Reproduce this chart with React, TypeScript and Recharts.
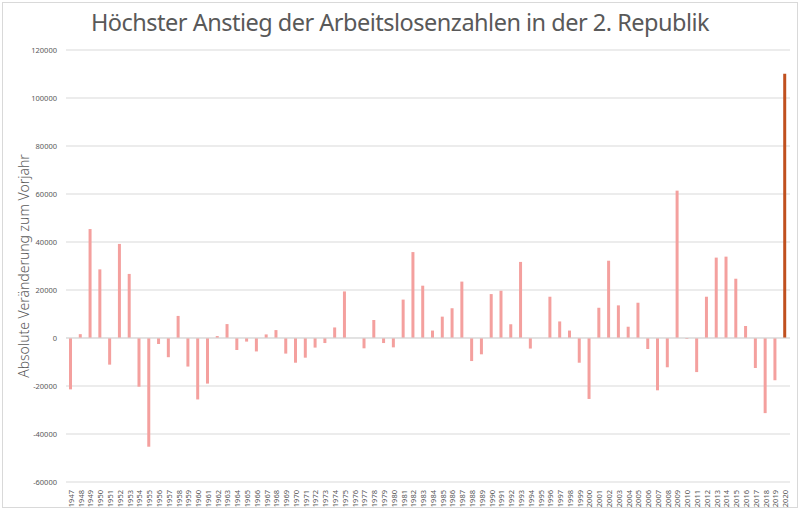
import { BarChart, Bar, XAxis, YAxis, CartesianGrid, ReferenceLine, Cell } from 'recharts'

const years = [
  '1947', '1948', '1949', '1950', '1951', '1952', '1953', '1954', '1955', '1956',
  '1957', '1958', '1959', '1960', '1961', '1962', '1963', '1964', '1965', '1966',
  '1967', '1968', '1969', '1970', '1971', '1972', '1973', '1974', '1975', '1976',
  '1977', '1978', '1979', '1980', '1981', '1982', '1983', '1984', '1985', '1986',
  '1987', '1988', '1989', '1990', '1991', '1992', '1993', '1994', '1995', '1996',
  '1997', '1998', '1999', '2000', '2001', '2002', '2003', '2004', '2005', '2006',
  '2007', '2008', '2009', '2010', '2011', '2012', '2013', '2014', '2015', '2016',
  '2017', '2018', '2019', '2020',
]

const changes = [
  -21400, 1600, 45400, 28600, -11100, 39200, 26700, -20300, -45300, -2500,
  -8000, 9200, -11900, -25600, -19000, 800, 5800, -5000, -1500, -5600,
  1500, 3300, -6500, -10300, -8200, -4000, -2100, 4400, 19400, 0,
  -4300, 7500, -2100, -3900, 16000, 35800, 21800, 3100, 8900, 12400,
  23500, -9600, -6800, 18300, 19700, 5700, 31700, -4400, 0, 17200,
  6900, 3100, -10300, -25400, 12600, 32200, 13600, 4700, 14700, -4600,
  -21800, -12200, 61400, -400, -14200, 17200, 33500, 33900, 24700, 5000,
  -12500, -31300, -17600, 110100,
]

const yTicks = [-60000, -40000, -20000, 0, 20000, 40000, 60000, 80000, 100000, 120000]

const highlightYear = '2020'

const data = years.map((year, i) => ({ year, change: changes[i] }))

const gray = '#595959'
const font = '"Noto Sans", sans-serif'

function YearTick(props: any) {
  const { x, y, payload } = props
  return (
    <text
      x={x}
      y={y}
      transform={`rotate(-90 ${x} ${y})`}
      textAnchor="end"
      dominantBaseline="central"
      fontSize={7.5}
      fill={gray}
      fontFamily={font}
    >
      {payload.value}
    </text>
  )
}

function ValueTick(props: any) {
  const { x, y, payload } = props
  return (
    <text x={x} y={y} textAnchor="end" dominantBaseline="central" fontSize={7.5} fill={gray} fontFamily={font}>
      {payload.value}
    </text>
  )
}

function AxisTitle(props: any) {
  const vb = props.viewBox
  const cx = 23
  const cy = vb.y + vb.height / 2
  return (
    <text
      x={cx}
      y={cy}
      transform={`rotate(-90 ${cx} ${cy})`}
      textAnchor="middle"
      dominantBaseline="central"
      fontSize={14}
      fontWeight={300}
      fill={gray}
      fontFamily={font}
    >
      Absolute Veränderung zum Vorjahr
    </text>
  )
}

export default function App() {
  return (
    <div style={{ position: 'absolute', left: 0, top: 0, width: 800, height: 509, background: '#fff' }}>
      <div style={{ position: 'absolute', left: 2, top: 2, width: 794, height: 504, border: '1px solid #d9d9d9' }} />
      <div
        style={{
          position: 'absolute', left: 0, top: 6, width: 800, textAlign: 'center',
          fontFamily: font, fontSize: 23.5, color: gray, letterSpacing: -0.5,
        }}
      >
        Höchster Anstieg der Arbeitslosenzahlen in der 2. Republik
      </div>
      <BarChart
        width={800}
        height={509}
        data={data}
        margin={{ top: 50, right: 10, bottom: 0, left: 0 }}
        style={{ position: 'absolute', left: 0, top: 0 }}
      >
        <CartesianGrid stroke="#d9d9d9" vertical={false} />
        <XAxis
          dataKey="year"
          interval={0}
          axisLine={false}
          tickLine={false}
          tick={<YearTick />}
          tickMargin={2}
          height={27}
        />
        <YAxis
          width={66}
          domain={[-60000, 120000]}
          ticks={yTicks}
          interval={0}
          axisLine={false}
          tickLine={false}
          tick={<ValueTick />}
          tickMargin={3}
          label={<AxisTitle />}
        />
        <ReferenceLine y={0} stroke="#d9d9d9" />
        <Bar dataKey="change" barSize={3} isAnimationActive={false}>
          {data.map((d) => (
            <Cell key={d.year} fill={d.year === highlightYear ? '#c0501f' : '#f4a09e'} />
          ))}
        </Bar>
      </BarChart>
    </div>
  )
}
